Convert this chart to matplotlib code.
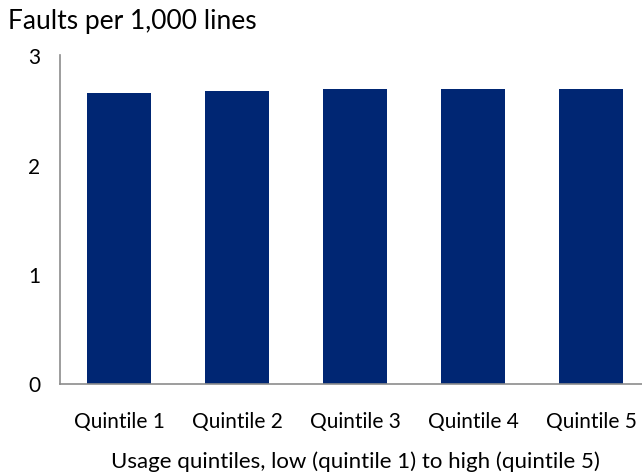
import matplotlib.pyplot as plt

categorias = ['Quintile 1', 'Quintile 2', 'Quintile 3', 'Quintile 4', 'Quintile 5']
falhas = [2.65, 2.67, 2.69, 2.69, 2.69]
ticks_y = [0, 1, 2, 3]

plt.rcParams['font.family'] = ['Lato', 'DejaVu Sans']

fig = plt.figure(figsize=(6.42, 4.77), dpi=100)
ax = fig.add_axes([60 / 642, 92.5 / 477, 590 / 642, 328.5 / 477])

posicoes = range(len(categorias))
ax.bar(posicoes, falhas, width=0.54, color='#002673')

ax.set_xlim(-0.5, len(categorias) - 0.5)
ax.set_ylim(0, 3)
ax.set_yticks(ticks_y)
ax.set_xticks(list(posicoes))
ax.set_xticklabels(categorias)
ax.tick_params(axis='both', length=0, labelsize=15, colors='black')
ax.tick_params(axis='y', pad=14)
ax.tick_params(axis='x', pad=20)

for lado in ['top', 'right']:
    ax.spines[lado].set_visible(False)
for lado in ['left', 'bottom']:
    ax.spines[lado].set_color('#8c8c8c')
    ax.spines[lado].set_linewidth(1.2)

ax.set_xlabel('Usage quintiles, low (quintile 1) to high (quintile 5)', fontsize=16, labelpad=14)
fig.text(8 / 642, 1 - 29 / 477, 'Faults per 1,000 lines', fontsize=19, va='baseline', ha='left')

fig.savefig('out.png', dpi=100)
